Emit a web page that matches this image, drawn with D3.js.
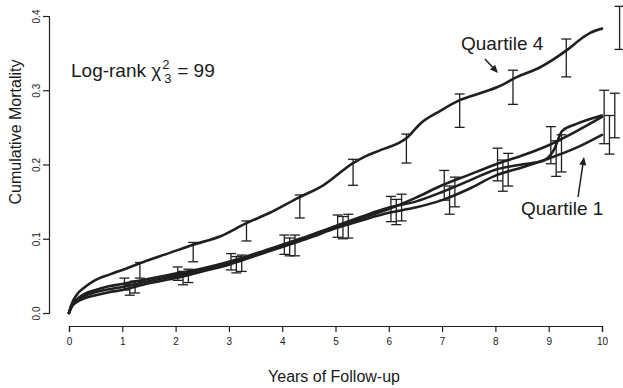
<!DOCTYPE html>
<html>
<head>
<meta charset="utf-8">
<script src="https://cdn.jsdelivr.net/npm/d3@7"></script>
<style>
  html, body { margin: 0; padding: 0; background: #fff; }
  svg { display: block; }
  text { font-family: "Liberation Sans", Arial, sans-serif; fill: #1a1a1a; }
</style>
</head>
<body>
<svg id="chart" width="623" height="388"></svg>
<script>
// ---- data ----
const xTicks = [0, 1, 2, 3, 4, 5, 6, 7, 8, 9, 10];
const yTicks = [0.0, 0.1, 0.2, 0.3, 0.4];
const yTickLabels = ["0.0", "0.1", "0.2", "0.3", "0.4"];

// Quartile 4 (highest)
const q4Years = [0, 0.05, 0.14, 0.3, 0.46, 0.77, 1.0, 1.33, 1.89, 2.33, 2.83, 3.33, 3.77, 4.3, 4.77, 5.33, 5.59, 5.83, 6.34, 6.59, 6.96, 7.34, 7.71, 8.03, 8.41, 8.84, 9.34, 9.64, 9.77, 10.0];
const q4Mort  = [0, 0.012, 0.024, 0.035, 0.043, 0.052, 0.058, 0.067, 0.081, 0.092, 0.103, 0.121, 0.135, 0.155, 0.172, 0.202, 0.212, 0.219, 0.236, 0.255, 0.272, 0.287, 0.296, 0.304, 0.318, 0.331, 0.354, 0.371, 0.377, 0.383];

// Quartile 1 (lowest at the end)
const q1Years = [0, 0.05, 0.15, 0.3, 0.5, 0.75, 1, 1.5, 2, 2.5, 3, 3.5, 4, 4.5, 5, 5.5, 6, 6.5, 7, 7.5, 8, 8.5, 9, 9.5, 10];
const q1Mort  = [0, 0.008, 0.015, 0.020, 0.024, 0.028, 0.031, 0.040, 0.047, 0.056, 0.065, 0.077, 0.089, 0.101, 0.114, 0.125, 0.135, 0.142, 0.152, 0.167, 0.185, 0.196, 0.208, 0.222, 0.240];

// Quartile 2
const q2Years = [0, 0.05, 0.15, 0.3, 0.5, 0.75, 1, 1.5, 2, 2.5, 3, 3.5, 4, 4.5, 5, 5.5, 6, 6.5, 7, 7.5, 8, 8.5, 9, 9.5, 10];
const q2Mort  = [0, 0.011, 0.019, 0.026, 0.031, 0.036, 0.039, 0.046, 0.053, 0.060, 0.069, 0.080, 0.092, 0.104, 0.117, 0.128, 0.140, 0.155, 0.172, 0.186, 0.200, 0.212, 0.226, 0.244, 0.264];

// Quartile 3
const q3Years = [0, 0.05, 0.15, 0.3, 0.5, 0.75, 1, 1.5, 2, 2.5, 3, 3.5, 4, 4.5, 5, 5.5, 6, 6.5, 7, 7.5, 8, 8.5, 8.9, 9.1, 9.25, 9.5, 10];
const q3Mort  = [0, 0.010, 0.017, 0.023, 0.028, 0.032, 0.035, 0.043, 0.050, 0.058, 0.067, 0.078, 0.091, 0.103, 0.117, 0.130, 0.142, 0.150, 0.163, 0.178, 0.193, 0.200, 0.205, 0.220, 0.245, 0.254, 0.266];

// error bars at each year (95% CI), drawn slightly offset per quartile
const barYears = [1, 2, 3, 4, 5, 6, 7, 8, 9, 10];
const q4Lower = [0.047, 0.069, 0.097, 0.128, 0.172, 0.202, 0.250, 0.281, 0.318, 0.355];
const q4Upper = [0.068, 0.095, 0.124, 0.159, 0.207, 0.241, 0.295, 0.327, 0.369, 0.413];
const q1Lower = [0.024, 0.038, 0.054, 0.077, 0.100, 0.119, 0.133, 0.164, 0.184, 0.214];
const q1Upper = [0.038, 0.056, 0.076, 0.101, 0.130, 0.153, 0.171, 0.206, 0.232, 0.266];
const q2Lower = [0.031, 0.044, 0.058, 0.079, 0.102, 0.123, 0.152, 0.178, 0.201, 0.228];
const q2Upper = [0.047, 0.062, 0.080, 0.105, 0.132, 0.157, 0.192, 0.222, 0.251, 0.300];
const q3Lower = [0.027, 0.041, 0.056, 0.077, 0.101, 0.124, 0.143, 0.171, 0.190, 0.236];
const q3Upper = [0.043, 0.059, 0.078, 0.105, 0.133, 0.160, 0.183, 0.215, 0.240, 0.296];
const barOffsets = { q1: 0.14, q2: 0.04, q3: 0.24, q4: 0.33 };

// ---- drawing ----
const svg = d3.select("#chart");
const x = d3.scaleLinear().domain([0, 10]).range([69, 602]);
const y = d3.scaleLinear().domain([0, 0.4]).range([313, 16]);
const ink = "#1f1f1f";

// axes
const xAxis = d3.axisBottom(x).tickValues(xTicks).tickSize(6).tickPadding(6).tickFormat(d3.format("d"));
const gx = svg.append("g").attr("transform", "translate(0,326)").call(xAxis);
gx.select(".domain").attr("stroke", ink).attr("stroke-width", 1.2);
gx.selectAll(".tick line").attr("stroke", ink).attr("stroke-width", 1.2);
gx.selectAll(".tick text").style("font-size", "10px").attr("fill", ink);

const yAxis = d3.axisLeft(y).tickValues(yTicks).tickSize(6).tickFormat((d, i) => yTickLabels[i]);
const gy = svg.append("g").attr("transform", "translate(49,0)").call(yAxis);
gy.select(".domain").attr("stroke", ink).attr("stroke-width", 1.2);
gy.selectAll(".tick line").attr("stroke", ink).attr("stroke-width", 1.2);
gy.selectAll(".tick text")
  .style("font-size", "10px").attr("fill", ink)
  .attr("x", 0).attr("dy", null)
  .attr("text-anchor", "middle")
  .attr("transform", "translate(-9,0) rotate(-90)");

// axis titles
svg.append("text").attr("x", 334).attr("y", 382).attr("text-anchor", "middle")
  .style("font-size", "16px").text("Years of Follow-up");
svg.append("text").attr("transform", "translate(21,132) rotate(-90)").attr("text-anchor", "middle")
  .style("font-size", "16px").text("Cumulative Mortality");

// curves
const line = d3.line().x(d => x(d[0])).y(d => y(d[1])).curve(d3.curveMonotoneX);
const series = [
  { t: q1Years, v: q1Mort, lo: q1Lower, hi: q1Upper, off: barOffsets.q1 },
  { t: q2Years, v: q2Mort, lo: q2Lower, hi: q2Upper, off: barOffsets.q2 },
  { t: q3Years, v: q3Mort, lo: q3Lower, hi: q3Upper, off: barOffsets.q3 },
  { t: q4Years, v: q4Mort, lo: q4Lower, hi: q4Upper, off: barOffsets.q4 }
];
series.forEach(s => {
  svg.append("path").datum(s.t.map((t, i) => [t, s.v[i]]))
    .attr("d", line).attr("fill", "none").attr("stroke", ink)
    .attr("stroke-width", 2.6).attr("stroke-linejoin", "round").attr("stroke-linecap", "round");
});

// error bars
series.forEach(s => {
  const g = svg.append("g").attr("stroke", ink).attr("stroke-width", 1.3);
  barYears.forEach((k, i) => {
    const cx = x(k + s.off);
    g.append("line").attr("x1", cx).attr("x2", cx).attr("y1", y(s.lo[i])).attr("y2", y(s.hi[i]));
    g.append("line").attr("x1", cx - 5).attr("x2", cx + 5).attr("y1", y(s.lo[i])).attr("y2", y(s.lo[i]));
    g.append("line").attr("x1", cx - 5).attr("x2", cx + 5).attr("y1", y(s.hi[i])).attr("y2", y(s.hi[i]));
  });
});

// log-rank annotation
const lrX = 71;
const lr = svg.append("text").attr("x", lrX).attr("y", 77).style("font-size", "19px").text("Log-rank χ");
const lrW = lr.node().getComputedTextLength();
svg.append("text").attr("x", lrX + lrW + 1).attr("y", 69).style("font-size", "13px").text("2");
svg.append("text").attr("x", lrX + lrW + 3).attr("y", 83).style("font-size", "13px").text("3");
svg.append("text").attr("x", lrX + lrW + 16).attr("y", 77).style("font-size", "19px").text("= 99");

// quartile labels and arrows
svg.append("text").attr("x", 461).attr("y", 50).style("font-size", "19px").text("Quartile 4");
svg.append("text").attr("x", 521).attr("y", 215).style("font-size", "19px").text("Quartile 1");

function arrow(x1, y1, x2, y2) {
  const ang = Math.atan2(y2 - y1, x2 - x1);
  const len = 8, w = 3.5;
  const bx = x2 - len * Math.cos(ang), by = y2 - len * Math.sin(ang);
  svg.append("line").attr("x1", x1).attr("y1", y1).attr("x2", bx).attr("y2", by)
    .attr("stroke", ink).attr("stroke-width", 1.5);
  const p = [
    [x2, y2],
    [bx + w * Math.sin(ang), by - w * Math.cos(ang)],
    [bx - w * Math.sin(ang), by + w * Math.cos(ang)]
  ];
  svg.append("path").attr("d", "M" + p.map(q => q.join(",")).join("L") + "Z").attr("fill", ink);
}
arrow(485, 59, 498, 73);
arrow(578, 197, 584, 157);
</script>
</body>
</html>
